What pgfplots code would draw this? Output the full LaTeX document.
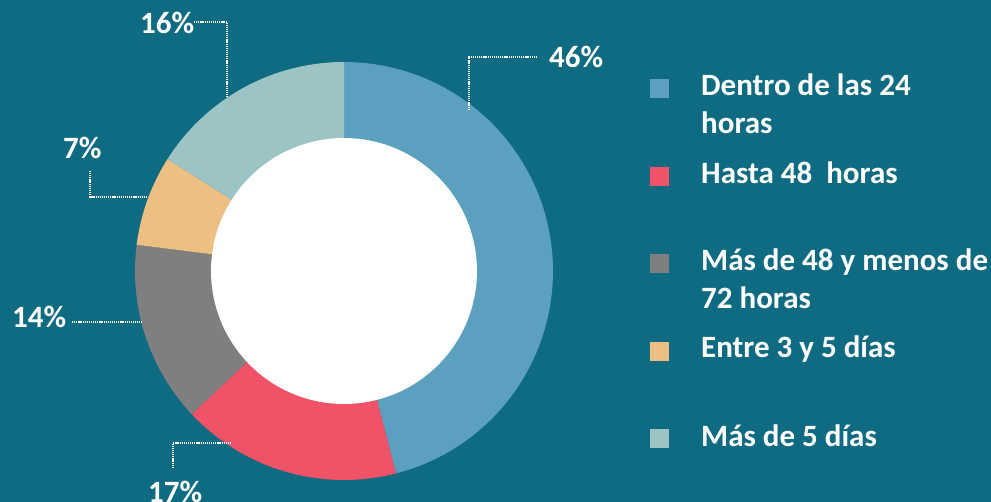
\documentclass[border=0pt]{standalone}
\usepackage{fontspec}
\setmainfont{Carlito}
\usepackage{pgfplots}
\pgfplotsset{compat=1.18}
\definecolor{bg}{HTML}{0E6B81}
\definecolor{cA}{HTML}{5CA0C0}
\definecolor{cB}{HTML}{F05267}
\definecolor{cC}{HTML}{7F7F7F}
\definecolor{cD}{HTML}{EDBF83}
\definecolor{cE}{HTML}{9DC4C5}
% data (percent)
\def\vA{46}\def\vB{17}\def\vC{14}\def\vD{7}\def\vE{16}
\pgfmathsetmacro{\aA}{90}
\pgfmathsetmacro{\aB}{\aA-3.6*\vA}
\pgfmathsetmacro{\aC}{\aB-3.6*\vB}
\pgfmathsetmacro{\aD}{\aC-3.6*\vC}
\pgfmathsetmacro{\aE}{\aD-3.6*\vD}
\pgfmathsetmacro{\aF}{\aE-3.6*\vE}
\def\cx{344}\def\cy{231}\def\Ro{209}\def\Ri{133}
\tikzset{
  lbl/.style={anchor=base west,text=white,font=\fontsize{31}{36}\selectfont\bfseries,inner sep=0pt},
  leg/.style={anchor=base west,text=white,font=\fontsize{31}{38}\selectfont\bfseries,inner sep=0pt},
  lead/.style={white,line width=1.4pt,dash pattern=on 1.2pt off 0.9pt}}
\begin{document}
\begin{tikzpicture}
\useasboundingbox (0,0) rectangle (991pt,502pt);
\fill[bg] (0,0) rectangle (991pt,502pt);
\begin{axis}[x=1pt,y=1pt,xmin=0,xmax=991,ymin=0,ymax=502,hide axis,
  at={(0,0)},anchor=south west]
% wedges
\addplot[fill=cA,draw=none,domain=\aB:\aA,samples=120,variable=\t]
  ({\cx+\Ro*cos(\t)},{\cy+\Ro*sin(\t)}) -- (axis cs:\cx,\cy) -- cycle;
\addplot[fill=cB,draw=none,domain=\aC:\aB,samples=60,variable=\t]
  ({\cx+\Ro*cos(\t)},{\cy+\Ro*sin(\t)}) -- (axis cs:\cx,\cy) -- cycle;
\addplot[fill=cC,draw=none,domain=\aD:\aC,samples=60,variable=\t]
  ({\cx+\Ro*cos(\t)},{\cy+\Ro*sin(\t)}) -- (axis cs:\cx,\cy) -- cycle;
\addplot[fill=cD,draw=none,domain=\aE:\aD,samples=40,variable=\t]
  ({\cx+\Ro*cos(\t)},{\cy+\Ro*sin(\t)}) -- (axis cs:\cx,\cy) -- cycle;
\addplot[fill=cE,draw=none,domain=\aF:\aE,samples=60,variable=\t]
  ({\cx+\Ro*cos(\t)},{\cy+\Ro*sin(\t)}) -- (axis cs:\cx,\cy) -- cycle;
% hole
\addplot[fill=white,draw=none,domain=0:360,samples=180,variable=\t]
  ({\cx+\Ri*cos(\t)},{\cy+\Ri*sin(\t)}) -- cycle;
% leader lines
\addplot[lead] coordinates {(537,445) (469,445) (469,392)};
\addplot[lead] coordinates {(194,480) (227,480) (227,404)};
\addplot[lead] coordinates {(90,331) (90,305) (148,305)};
\addplot[lead] coordinates {(72,180) (142,180)};
\addplot[lead] coordinates {(173,34) (173,59) (232,59)};
% percent labels
\node[lbl] at (axis cs:549,434) {\vA\%};
\node[lbl] at (axis cs:148,-1) {\vB\%};
\node[lbl] at (axis cs:12,174) {\vC\%};
\node[lbl] at (axis cs:63,343) {\vD\%};
\node[lbl] at (axis cs:140,468) {\vE\%};
% legend
\addplot[only marks,draw=cA,mark=square*,mark size=9pt,mark options={draw=cA,fill=cA}] coordinates {(659,414)};
\addplot[only marks,draw=cB,mark=square*,mark size=9pt,mark options={draw=cB,fill=cB}] coordinates {(659,326)};
\addplot[only marks,draw=cC,mark=square*,mark size=9pt,mark options={draw=cC,fill=cC}] coordinates {(659,239)};
\addplot[only marks,draw=cD,mark=square*,mark size=9pt,mark options={draw=cD,fill=cD}] coordinates {(659,151)};
\addplot[only marks,draw=cE,mark=square*,mark size=9pt,mark options={draw=cE,fill=cE}] coordinates {(659,64)};
\node[leg] at (axis cs:701,406) {Dentro de las 24};
\node[leg] at (axis cs:701,368) {horas};
\node[leg] at (axis cs:701,318) {Hasta 48\ \ horas};
\node[leg] at (axis cs:701,231) {Más de 48 y menos de};
\node[leg] at (axis cs:701,193) {72 horas};
\node[leg] at (axis cs:701,144) {Entre 3 y 5 días};
\node[leg] at (axis cs:701,55) {Más de 5 días};
\end{axis}
\end{tikzpicture}
\end{document}
